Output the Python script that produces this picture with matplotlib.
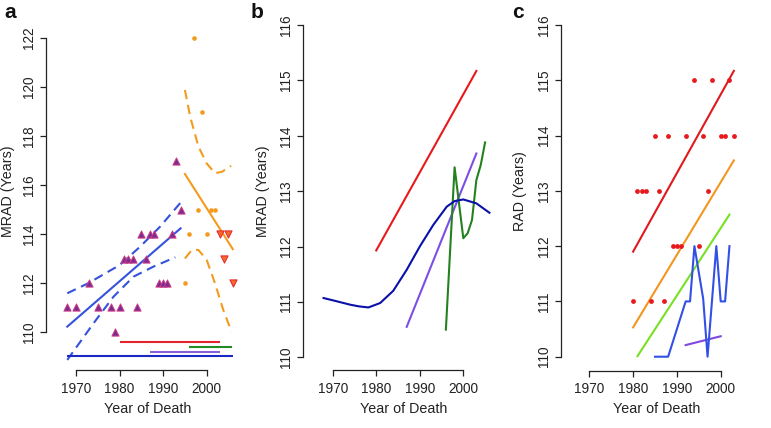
import matplotlib
matplotlib.use("Agg")
import matplotlib.pyplot as plt

plt.rcParams['font.family'] = ['Liberation Sans', 'DejaVu Sans']

# ---------------- Panel a data ----------------
tri_year = [1968, 1970, 1973, 1975, 1978, 1979, 1980, 1981, 1982, 1983, 1984, 1985,
            1986, 1987, 1988, 1989, 1990, 1991, 1992, 1993, 1994]
tri_mrad = [111, 111, 112, 111, 111, 110, 111, 113, 113, 113, 111, 114,
            113, 114, 114, 112, 112, 112, 114, 117, 115]
dot_year = [1995, 1996, 1997, 1998, 1999, 2000, 2001, 2002]
dot_mrad = [112, 114, 122, 115, 119, 114, 115, 115]
dtri_year = [2003, 2004, 2005, 2006]
dtri_mrad = [114, 113, 114, 112]

blue_fit_x = [1968, 1994]
blue_fit_y = [110.22, 114.23]
blue_up_x = [1968, 1972.8, 1980, 1984.7, 1989.3, 1994]
blue_up_y = [111.58, 111.99, 112.73, 113.48, 114.3, 115.28]
blue_lo_x = [1968, 1974, 1978.6, 1983.2, 1987.8, 1992.8]
blue_lo_y = [108.86, 110.35, 111.44, 112.26, 112.67, 113.05]

or_fit_x = [1995, 2006]
or_fit_y = [116.45, 113.38]
or_up_x = [1995, 1996.2, 1998.1, 2000, 2001.9, 2003.5, 2005.6]
or_up_y = [119.88, 118.79, 117.57, 116.88, 116.48, 116.54, 116.78]
or_lo_x = [1995, 1996.6, 1998.1, 2000, 2001.9, 2003.8, 2005.7]
or_lo_y = [113.0, 113.35, 113.35, 112.94, 111.99, 110.9, 110.01]

span_red = [1980, 2003]
span_green = [1996, 2005.8]
span_purple = [1987, 2003]
span_blue = [1968, 2006]
span_levels = [109.59, 109.38, 109.18, 109.0]

# ---------------- Panel b data ----------------
b_red_x = [1980, 2003]
b_red_y = [111.93, 115.17]
b_purple_x = [1987, 2003]
b_purple_y = [110.55, 113.68]
b_green_x = [1996, 1998, 2000, 2001, 2002, 2003, 2004, 2005]
b_green_y = [110.5, 113.43, 112.15, 112.24, 112.48, 113.2, 113.47, 113.88]
b_blue_x = [1967.9, 1971, 1974, 1976, 1978.2, 1980.9, 1983.9, 1987, 1990, 1993.1,
            1996.2, 1998, 2000, 2003, 2006]
b_blue_y = [111.07, 111.01, 110.95, 110.92, 110.9, 110.98, 111.2, 111.58, 112.0, 112.39,
            112.72, 112.82, 112.85, 112.78, 112.61]

# ---------------- Panel c data ----------------
c_dot_year = [1994, 1998, 2002,
              1985, 1988, 1992, 1996, 2000, 2001, 2003,
              1981, 1982, 1983, 1986, 1997,
              1989, 1990, 1991, 1995,
              1980, 1984, 1987]
c_dot_rad = [115, 115, 115,
             114, 114, 114, 114, 114, 114, 114,
             113, 113, 113, 113, 113,
             112, 112, 112, 112,
             111, 111, 111]
c_red_x = [1980, 2003]
c_red_y = [111.9, 115.17]
c_orange_x = [1980, 2003]
c_orange_y = [110.53, 113.55]
c_green_x = [1981, 2002]
c_green_y = [110.01, 112.57]
c_purple_x = [1992, 2000]
c_purple_y = [110.21, 110.37]
c_blue_x = [1985, 1988, 1992, 1993, 1994, 1996, 1997, 1999, 2000, 2001, 2002]
c_blue_y = [110, 110, 111, 111, 112, 111.05, 110, 112, 111, 111, 112]

x_ticks = [1970, 1980, 1990, 2000]
a_yticks = [110, 112, 114, 116, 118, 120, 122]
bc_yticks = [110, 111, 112, 113, 114, 115, 116]

W, H = 771, 428
PT = 0.72  # points per pixel at 100 dpi
fig = plt.figure(figsize=(W / 100, H / 100), dpi=100)


def make_axes(box, xmap, ymap):
    l, r, t, b = box
    ax = fig.add_axes([l / W, 1 - b / H, (r - l) / W, (b - t) / H])
    (px0, v0), (px1, v1) = xmap
    s = (px1 - px0) / (v1 - v0)
    ax.set_xlim(v0 + (l - px0) / s, v0 + (r - px0) / s)
    (py0, w0), (py1, w1) = ymap
    sy = (py1 - py0) / (w1 - w0)
    ax.set_ylim(w0 + (b - py0) / sy, w0 + (t - py0) / sy)
    return ax


def style(ax, box, yticks, ylabel, yspine_px, xspine_px, ylab_right_px, xlab_top_px):
    l, r, t, b = box
    for s in ['top', 'right']:
        ax.spines[s].set_visible(False)
    ax.spines['left'].set_position(('outward', (l - yspine_px) * PT))
    ax.spines['bottom'].set_position(('outward', (xspine_px - b) * PT))
    ax.spines['left'].set_bounds(yticks[0], yticks[-1])
    ax.spines['bottom'].set_bounds(x_ticks[0], x_ticks[-1])
    for s in ['left', 'bottom']:
        ax.spines[s].set_linewidth(0.9)
        ax.spines[s].set_color('#222222')
    ax.set_xticks(x_ticks)
    ax.set_yticks(yticks)
    ax.tick_params(axis='both', length=6 * PT, width=0.9, color='#222222',
                   labelsize=9.8, labelcolor='#222222')
    ax.tick_params(axis='x', pad=4)
    ax.tick_params(axis='y', pad=3)
    for lab in ax.get_yticklabels():
        lab.set_rotation(90)
        lab.set_va('center')
    ax.set_xlabel('Year of Death', fontsize=10.3, color='#222222')
    ax.set_ylabel(ylabel, fontsize=10.3, color='#222222')
    ax.yaxis.set_label_coords((ylab_right_px - l) / (r - l), 0.5)
    ax.xaxis.set_label_coords(0.5, 1 - (xlab_top_px - t) / (b - t))
    ax.patch.set_alpha(0)


LW = 1.5
DASH = (0, (4.5, 2.8))

# ---- Panel a ----
box_a = (55, 240, 20, 362)
axa = make_axes(box_a, ((76, 1970), (206.7, 2000)), ((332, 110), (38, 122)))
style(axa, box_a, a_yticks, 'MRAD (Years)', 46, 370, 15, 402)
c_blue_a = '#3452DC'
axa.plot(blue_fit_x, blue_fit_y, color=c_blue_a, lw=LW)
axa.plot(blue_up_x, blue_up_y, color=c_blue_a, lw=LW, linestyle=DASH)
axa.plot(blue_lo_x, blue_lo_y, color=c_blue_a, lw=LW, linestyle=DASH)
c_or = '#F39B1E'
axa.plot(or_fit_x, or_fit_y, color=c_or, lw=LW)
axa.plot(or_up_x, or_up_y, color=c_or, lw=LW, linestyle=DASH)
axa.plot(or_lo_x, or_lo_y, color=c_or, lw=LW, linestyle=DASH)
span_colors = ['#E3242B', '#228B22', '#8A60D8', '#1A28C4']
for span, lev, col in zip([span_red, span_green, span_purple, span_blue], span_levels, span_colors):
    axa.plot(span, [lev, lev], color=col, lw=LW, solid_capstyle='butt')
axa.scatter(tri_year, tri_mrad, marker='^', s=27, facecolor='#7B2C8F',
            edgecolor='#D03C86', linewidths=0.7, zorder=5)
axa.scatter(dot_year, dot_mrad, marker='o', s=11, color=c_or, zorder=5, linewidths=0)
axa.scatter(dtri_year, dtri_mrad, marker='v', s=27, facecolor='#F46A2A',
            edgecolor='#E3242B', linewidths=0.7, zorder=5)

# ---- Panel b ----
box_b = (312, 495, 20, 362)
axb = make_axes(box_b, ((332.7, 1970), (463.3, 2000)), ((357.3, 110), (25, 116)))
style(axb, box_b, bc_yticks, 'MRAD (Years)', 303.3, 370, 270, 402)
axb.plot(b_red_x, b_red_y, color='#E8191C', lw=LW)
axb.plot(b_purple_x, b_purple_y, color='#7B4FE6', lw=LW)
axb.plot(b_green_x, b_green_y, color='#23821E', lw=LW)
axb.plot(b_blue_x, b_blue_y, color='#0A10A8', lw=LW)

# ---- Panel c ----
box_c = (569, 745, 20, 362)
axc = make_axes(box_c, ((589.3, 1970), (720.7, 2000)), ((356.7, 110), (25, 116)))
style(axc, box_c, bc_yticks, 'RAD (Years)', 560.7, 370.7, 527, 402)
axc.plot(c_red_x, c_red_y, color='#E0191C', lw=LW)
axc.plot(c_orange_x, c_orange_y, color='#F2961E', lw=LW)
axc.plot(c_green_x, c_green_y, color='#78E024', lw=LW)
axc.plot(c_purple_x, c_purple_y, color='#8048E0', lw=LW)
axc.plot(c_blue_x, c_blue_y, color='#3350E6', lw=LW)
axc.scatter(c_dot_year, c_dot_rad, marker='o', s=12, color='#E8191C', zorder=5, linewidths=0)

# panel letters
for letter, xp in [('a', 4), ('b', 251), ('c', 512)]:
    fig.text(xp / W, 1 - 13 / H, letter, fontsize=15, fontweight='bold',
             va='center', ha='left', color='#111111')

fig.savefig('out.png', dpi=100)
